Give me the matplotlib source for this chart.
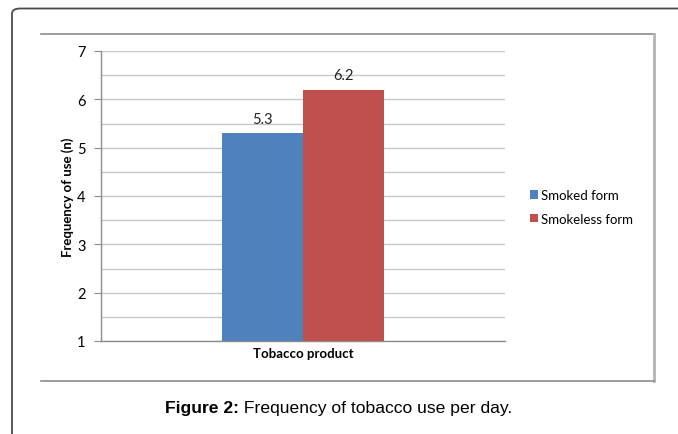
import matplotlib.pyplot as plt
from matplotlib.patches import FancyBboxPatch
from matplotlib.lines import Line2D

# Mean daily frequency of use by product form
series = ["Smoked form", "Smokeless form"]
values = [5.3, 6.2]
colors = ["#4F81BD", "#C0504D"]
category = "Tobacco product"
y_ticks = [1, 2, 3, 4, 5, 6, 7]

W, H = 678, 435
fig = plt.figure(figsize=(W / 100, H / 100), dpi=100)


def fx(px):
    return px / W


def fy(py):
    return 1 - py / H


# outer panel with rounded corner, running off the right and bottom edges
fig.patches.append(FancyBboxPatch(
    (fx(12), fy(440)), fx(700), fy(9.5) - fy(440),
    boxstyle="round,pad=0,rounding_size=0.012",
    transform=fig.transFigure, fill=False, edgecolor="#4a4a4a", linewidth=1.3,
    clip_on=False))

# chart area frame (top, right, bottom)
fig.lines.append(Line2D([fx(41), fx(654)], [fy(35), fy(35)],
                        transform=fig.transFigure, color="#8c8c8c", lw=1.2))
fig.lines.append(Line2D([fx(654), fx(654)], [fy(35), fy(382)],
                        transform=fig.transFigure, color="#b3b3b3", lw=2.0))
fig.lines.append(Line2D([fx(41), fx(654)], [fy(382), fy(382)],
                        transform=fig.transFigure, color="#8c8c8c", lw=1.2))

ax = fig.add_axes([fx(101), fy(342), fx(505) - fx(101), fy(52) - fy(342)])

bar_w = 1.0
offsets = [-0.5, 0.5]
for name, val, col, off in zip(series, values, colors, offsets):
    ax.bar(off, val - 1, bottom=1, width=bar_w, color=col, label=name, zorder=3)
    ax.text(off, val + 0.15, f"{val}", ha="center", va="bottom",
            fontsize=10.5, family="Lato", color="#222222")

ax.set_xlim(-2.5, 2.5)
ax.set_ylim(1, 7)
ax.set_yticks(y_ticks)
ax.set_yticks([t + 0.5 for t in y_ticks[:-1]], minor=True)
ax.set_yticklabels([str(t) for t in y_ticks], fontsize=10.5, family="Lato")
ax.tick_params(axis="y", which="major", length=5, color="#8c8c8c", pad=6)
ax.tick_params(axis="y", which="minor", length=0)
ax.set_xticks([])
ax.grid(axis="y", which="both", color="#c8c8c8", lw=1.0, zorder=0)

for side in ["top", "right"]:
    ax.spines[side].set_visible(False)
for side in ["left", "bottom"]:
    ax.spines[side].set_color("#8c8c8c")
    ax.spines[side].set_linewidth(1.0)

ax.set_xlabel(category, fontsize=9.5, fontweight="bold", family="Lato", labelpad=4)
ax.set_ylabel("Frequency of use (n)", fontsize=9.5, fontweight="bold", family="Lato")
ax.yaxis.set_label_coords(fx(74.5), fy(197), transform=fig.transFigure)

ax.legend(loc="center left", frameon=False,
          prop={"family": "Lato", "size": 9.5}, handlelength=0.6,
          handleheight=0.6, handletextpad=0.2, labelspacing=0.9,
          borderpad=0, borderaxespad=0,
          bbox_to_anchor=(fx(530), fy(208)), bbox_transform=fig.transFigure)

# caption: bold lead-in followed by plain text
cap_bold = "Figure 2:"
cap_rest = " Frequency of tobacco use per day."
t1 = fig.text(0, fy(409), cap_bold, ha="left", va="center", fontsize=12.6,
              fontweight="bold", family="Liberation Sans")
t2 = fig.text(0, fy(409), cap_rest, ha="left", va="center", fontsize=12.6,
              family="Liberation Sans")
r = fig.canvas.get_renderer()
w1 = t1.get_window_extent(r).width
w2 = t2.get_window_extent(r).width
x0 = 339 - (w1 + w2) / 2
t1.set_x(fx(x0))
t2.set_x(fx(x0 + w1))

fig.savefig("out.png", dpi=100)
